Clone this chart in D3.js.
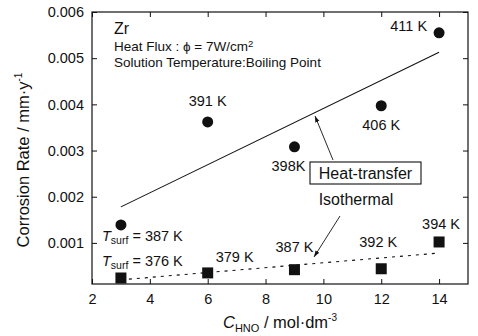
<!DOCTYPE html>
<html><head><meta charset="utf-8">
<script src="https://cdn.jsdelivr.net/npm/d3@7"></script>
<style>body{margin:0;background:#fff}svg{display:block}text{font-family:"Liberation Sans",Arial,sans-serif;fill:#111}</style>
</head><body><svg id="c" width="478" height="336"></svg>
<script>
const conc = [3, 6, 9, 12, 14];
const heatTransfer = [0.00139, 0.00362, 0.00308, 0.00397, 0.00555];
const isothermal = [0.00024, 0.00035, 0.00042, 0.00044, 0.00102];
const heatLabels = ["", "391 K", "398K", "406 K", "411 K"];
const isoLabels = ["", "379 K", "387 K", "392 K", "394 K"];
const heatFit = [[3, 0.00178], [14, 0.00513]];
const isoFit = [[3, 0.0002], [14, 0.00078]];
const xTicks = [2, 4, 6, 8, 10, 12, 14];
const yTicks = [0.001, 0.002, 0.003, 0.004, 0.005, 0.006];

const svg = d3.select("#c");
const L = 92, R = 468, T = 12, B = 284;
const x = d3.scaleLinear().domain([2, 15]).range([L, R]);
const y = d3.scaleLinear().domain([0.00011, 0.006]).range([B, T]);

svg.append("rect").attr("x", L).attr("y", T).attr("width", R - L).attr("height", B - T)
  .attr("fill", "none").attr("stroke", "#111").attr("stroke-width", 1.2);

const fmt = d3.format(".3f");
svg.append("g").attr("transform", `translate(0,${B})`)
  .call(d3.axisBottom(x).tickValues(xTicks).tickSizeInner(-5).tickSizeOuter(0).tickPadding(10))
  .call(g => { g.select(".domain").remove(); g.selectAll("text").attr("font-size", 14.5); });
svg.append("g").attr("transform", `translate(0,${T})`)
  .call(d3.axisTop(x).tickValues(xTicks).tickSizeInner(-5).tickSizeOuter(0).tickFormat(""))
  .call(g => g.select(".domain").remove());
svg.append("g").attr("transform", `translate(${L},0)`)
  .call(d3.axisLeft(y).tickValues(yTicks).tickFormat(fmt).tickSizeInner(-5).tickSizeOuter(0).tickPadding(8))
  .call(g => { g.select(".domain").remove(); g.selectAll("text").attr("font-size", 14.5); });
svg.append("g").attr("transform", `translate(${R},0)`)
  .call(d3.axisRight(y).tickValues(yTicks).tickFormat("").tickSizeInner(-5).tickSizeOuter(0))
  .call(g => g.select(".domain").remove());
svg.selectAll(".tick line").attr("stroke", "#111");

const line = d3.line().x(d => x(d[0])).y(d => y(d[1]));
svg.append("path").attr("d", line(heatFit)).attr("fill", "none").attr("stroke", "#111").attr("stroke-width", 1.1);
svg.append("path").attr("d", line(isoFit)).attr("fill", "none").attr("stroke", "#111").attr("stroke-width", 1.1).attr("stroke-dasharray", "3,5");

svg.selectAll("circle.h").data(conc).enter().append("circle")
  .attr("cx", d => x(d)).attr("cy", (d, i) => y(heatTransfer[i])).attr("r", 5.5).attr("fill", "#111");
svg.selectAll("rect.s").data(conc).enter().append("rect")
  .attr("x", d => x(d) - 5.5).attr("y", (d, i) => y(isothermal[i]) - 5.5).attr("width", 11).attr("height", 11).attr("fill", "#111");

const FS = 14.5;
const lab = (t, px, py, anchor) => svg.append("text").attr("x", px).attr("y", py).attr("font-size", FS)
  .attr("text-anchor", anchor || "middle").text(t);
lab(heatLabels[1], x(6), y(heatTransfer[1]) - 16);
lab(heatLabels[2], x(9) - 6, y(heatTransfer[2]) + 24);
lab(heatLabels[3], x(12), y(heatTransfer[3]) + 24);
lab(heatLabels[4], x(14) - 12, y(heatTransfer[4]) - 2, "end");
lab(isoLabels[1], x(6) + 8, y(isothermal[1]) - 11, "start");
lab(isoLabels[2], x(9), y(isothermal[2]) - 18);
lab(isoLabels[3], x(12) - 3, y(isothermal[3]) - 22);
lab(isoLabels[4], x(14) + 2, y(isothermal[4]) - 13);

const ts = (py, val) => {
  const t = svg.append("text").attr("x", 102).attr("y", py).attr("font-size", FS);
  t.append("tspan").attr("font-style", "italic").text("T");
  t.append("tspan").attr("font-size", 10.5).attr("dy", 3).text("surf");
  t.append("tspan").attr("dy", -3).text(" = " + val);
};
ts(y(heatTransfer[0]) + 16, "387 K");
ts(y(isothermal[0]) - 12, "376 K");

svg.append("text").attr("x", 114).attr("y", 34).attr("font-size", 16).text("Zr");
const hf = svg.append("text").attr("x", 114).attr("y", 51).attr("font-size", 13.5);
hf.append("tspan").text("Heat Flux : \u03d5 = 7W/cm");
hf.append("tspan").attr("font-size", 9.5).attr("dy", -4).text("2");
svg.append("text").attr("x", 114).attr("y", 67).attr("font-size", 13.5).text("Solution Temperature:Boiling Point");

svg.append("defs").append("marker").attr("id", "ah").attr("viewBox", "0 0 10 10").attr("refX", 10).attr("refY", 5)
  .attr("markerWidth", 7).attr("markerHeight", 7).attr("orient", "auto")
  .append("path").attr("d", "M0,1.5L10,5L0,8.5Z").attr("fill", "#111");
svg.append("rect").attr("x", 310).attr("y", 162).attr("width", 111).attr("height", 22)
  .attr("fill", "#fff").attr("stroke", "#111").attr("stroke-width", 1.1);
svg.append("text").attr("x", 365.5).attr("y", 179).attr("font-size", 16).attr("text-anchor", "middle").text("Heat-transfer");
svg.append("line").attr("x1", 333).attr("y1", 160).attr("x2", 315).attr("y2", 116)
  .attr("stroke", "#111").attr("stroke-width", 0.9).attr("marker-end", "url(#ah)");
svg.append("text").attr("x", 356).attr("y", 205).attr("font-size", 16).attr("text-anchor", "middle").text("Isothermal");
svg.append("line").attr("x1", 340).attr("y1", 216).attr("x2", 314).attr("y2", 257)
  .attr("stroke", "#111").attr("stroke-width", 0.9).attr("marker-end", "url(#ah)");

const yt = svg.append("text").attr("transform", `translate(29,${(T + B) / 2 + 12}) rotate(-90)`)
  .attr("text-anchor", "middle").attr("font-size", 16.5);
yt.append("tspan").text("Corrosion Rate / mm\u00b7y");
yt.append("tspan").attr("font-size", 10).attr("dy", -7).text("-1");
const xt = svg.append("text").attr("x", 280).attr("y", 328).attr("text-anchor", "middle").attr("font-size", 16.5);
xt.append("tspan").attr("font-style", "italic").text("C");
xt.append("tspan").attr("font-size", 11).attr("dy", 4).text("HNO");
xt.append("tspan").attr("dy", -4).text("  / mol\u00b7dm");
xt.append("tspan").attr("font-size", 10).attr("dy", -7).text("-3");
</script></body></html>
